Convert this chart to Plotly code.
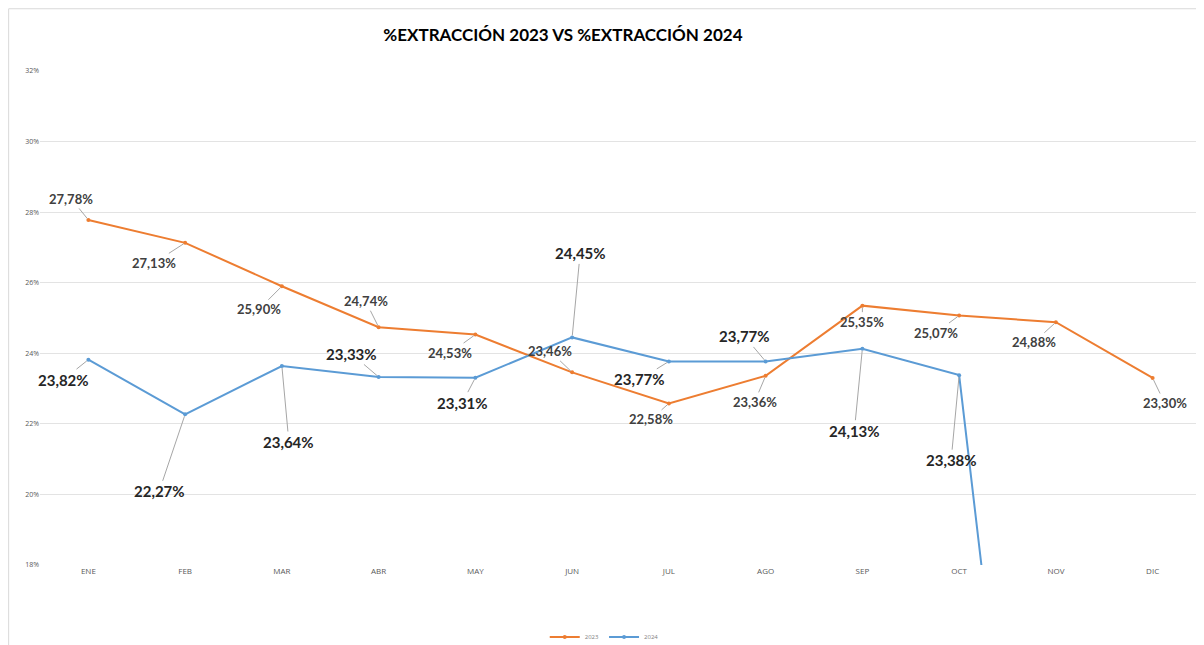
import plotly.graph_objects as go

months = ["ENE", "FEB", "MAR", "ABR", "MAY", "JUN", "JUL", "AGO", "SEP", "OCT", "NOV", "DIC"]
ext_2023 = [27.78, 27.13, 25.90, 24.74, 24.53, 23.46, 22.58, 23.36, 25.35, 25.07, 24.88, 23.30]
ext_2024 = [23.82, 22.27, 23.64, 23.33, 23.31, 24.45, 23.77, 23.77, 24.13, 23.38, 0.0, None]

# label offsets (pixels) for the data labels
off_2023 = [(-17, -21), (-31, 20), (-23, 23), (-13, -26), (-25, 18), (-22, -21),
            (-18, 16), (-11, 26), (0, 16), (-23, 17), (-22, 20), (12, 25)]
off_2024 = [(-25, 20), (-26, 77), (7, 76), (-27, -23), (-13, 25), (8, -84),
            (-29, 18), (-21, -25), (-8, 82), (-8, 85)]

C23 = "#ED7D31"
C24 = "#5B9BD5"


def frac(vals):
    return [None if v is None else v / 100 for v in vals]


def fmt(v):
    return f"{v:.2f}".replace(".", ",") + "%"


fig = go.Figure()
fig.add_trace(go.Scatter(x=months, y=frac(ext_2023), name="2023", mode="lines+markers",
                         line=dict(color=C23, width=2), marker=dict(size=4, color=C23)))
fig.add_trace(go.Scatter(x=months, y=frac(ext_2024), name="2024", mode="lines+markers",
                         line=dict(color=C24, width=2), marker=dict(size=4, color=C24)))

anns = []
for m, v, (ax, ay) in zip(months, ext_2023, off_2023):
    anns.append(dict(x=m, y=v / 100, text="<b>" + fmt(v) + "</b>", showarrow=True, arrowhead=0,
                     arrowwidth=1, arrowcolor="#A6A6A6", ax=ax, ay=ay, standoff=2,
                     font=dict(family="Lato, Open Sans, sans-serif", size=13, color="#404040")))
for m, v, (ax, ay) in zip(months, ext_2024, off_2024):
    anns.append(dict(x=m, y=v / 100, text="<b>" + fmt(v) + "</b>", showarrow=True, arrowhead=0,
                     arrowwidth=1, arrowcolor="#A6A6A6", ax=ax, ay=ay, standoff=2,
                     font=dict(family="Lato, Open Sans, sans-serif", size=15, color="#262626")))

fig.update_layout(
    width=1196, height=637,
    margin=dict(l=32, r=3, t=63, b=80, autoexpand=False),
    paper_bgcolor="white", plot_bgcolor="white",
    title=dict(text="<b>%EXTRACCIÓN 2023 VS %EXTRACCIÓN 2024</b>", xref="container", yref="container",
               x=0.464, y=0.9576, xanchor="center", yanchor="middle", automargin=False,
               font=dict(family="Lato, sans-serif", size=17, color="#000000")),
    showlegend=True,
    legend=dict(orientation="h", x=0.486, xanchor="center", y=-0.146, yanchor="middle",
                font=dict(size=6, color="#7F7F7F"), itemwidth=30),
    annotations=anns,
    shapes=[
        dict(type="line", xref="paper", yref="paper", x0=-0.027, x1=-0.027, y0=-0.162, y1=1.126,
             line=dict(color="#D9D9D9", width=1)),
        dict(type="line", xref="paper", yref="paper", x0=-0.027, x1=1.01, y0=1.126, y1=1.126,
             line=dict(color="#D9D9D9", width=1)),
    ],
)
fig.update_xaxes(range=[-0.5, 11.5], showgrid=False, showline=False, ticks="", zeroline=False,
                 automargin=False,
                 tickfont=dict(size=8, color="#595959", family="Open Sans, sans-serif"))
fig.update_yaxes(range=[0.18, 0.32], dtick=0.02, tickformat=".0%", showgrid=True, automargin=False,
                 gridcolor="#E3E3E3", gridwidth=1, zeroline=False, showline=False, ticks="",
                 tickfont=dict(size=7, color="#595959", family="Open Sans, sans-serif"))

fig.write_html("out.html")
